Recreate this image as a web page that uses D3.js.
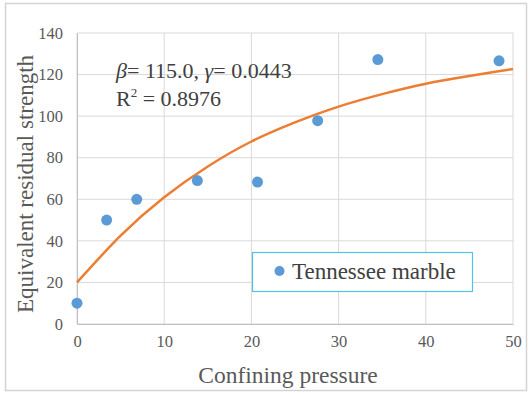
<!DOCTYPE html>
<html>
<head>
<meta charset="utf-8">
<script src="https://cdn.jsdelivr.net/npm/d3@7"></script>
<style>
  body { margin: 0; background: #fff; }
  text { font-family: "Liberation Serif", "Times New Roman", serif; }
</style>
</head>
<body>
<div id="chart"></div>
<script>
// measured points
var pressure = [0, 3.4, 6.85, 13.8, 20.7, 27.6, 34.5, 48.4];
var strength = [10, 50, 60, 69, 68.3, 97.8, 127.2, 126.6];

// fitted curve
var fitX = [0, 5, 10, 15, 20, 25, 30, 35, 40, 45, 50];
var fitY = [20, 42.5, 61, 75.8, 87.8, 97, 104.6, 110.6, 115.6, 119.3, 122.7];

var xTicks = [0, 10, 20, 30, 40, 50];
var yTicks = [0, 20, 40, 60, 80, 100, 120, 140];

var svgWidth = 530;
var svgHeight = 394;

var chartMargin = { top: 33, right: 17, bottom: 70, left: 77 };
var chartWidth = svgWidth - chartMargin.left - chartMargin.right;
var chartHeight = svgHeight - chartMargin.top - chartMargin.bottom;

var svg = d3.select("#chart")
            .append("svg")
            .attr("width", svgWidth)
            .attr("height", svgHeight);

// outer frame
svg.append("rect")
   .attr("x", 5.5).attr("y", 3.5)
   .attr("width", 521).attr("height", 387)
   .attr("fill", "#fff")
   .attr("stroke", "#d4d4d4")
   .attr("stroke-width", 1.5);

var chartGroup = svg.append("g")
                    .attr("transform", `translate(${chartMargin.left}, ${chartMargin.top})`);

var xLinearScale = d3.scaleLinear().domain([0, 50]).range([0, chartWidth]);
var yLinearScale = d3.scaleLinear().domain([0, 140]).range([chartHeight, 0]);

// grid
chartGroup.append("g")
  .selectAll("line.h")
  .data(yTicks)
  .enter()
  .append("line")
  .attr("x1", 0).attr("x2", chartWidth)
  .attr("y1", d => yLinearScale(d)).attr("y2", d => yLinearScale(d))
  .attr("stroke", "#d9d9d9")
  .attr("stroke-width", 1);

chartGroup.append("g")
  .selectAll("line.v")
  .data(xTicks)
  .enter()
  .append("line")
  .attr("y1", 0).attr("y2", chartHeight)
  .attr("x1", d => xLinearScale(d)).attr("x2", d => xLinearScale(d))
  .attr("stroke", "#d9d9d9")
  .attr("stroke-width", 1);

// axes (labels only, Excel style)
var bottomAxis = d3.axisBottom(xLinearScale).tickValues(xTicks).tickSize(0).tickPadding(11);
var leftAxis = d3.axisLeft(yLinearScale).tickValues(yTicks).tickSize(0).tickPadding(14);

var xAxis = chartGroup.append("g")
  .attr("transform", `translate(0, ${chartHeight})`)
  .call(bottomAxis);
var yAxis = chartGroup.append("g").call(leftAxis);

[xAxis, yAxis].forEach(function(ax) {
  ax.select(".domain").attr("stroke", "#bfbfbf");
  ax.selectAll("text")
    .attr("font-family", "Liberation Serif, serif")
    .attr("font-size", "16.5px")
    .attr("fill", "#595959");
});

// fit curve
var line = d3.line()
  .x(d => xLinearScale(d[0]))
  .y(d => yLinearScale(d[1]))
  .curve(d3.curveNatural);

chartGroup.append("path")
  .datum(fitX.map((x, i) => [x, fitY[i]]))
  .attr("d", line)
  .attr("fill", "none")
  .attr("stroke", "#ed7d31")
  .attr("stroke-width", 2.5);

// points
chartGroup.selectAll("circle.pt")
  .data(pressure.map((x, i) => [x, strength[i]]))
  .enter()
  .append("circle")
  .attr("cx", d => xLinearScale(d[0]))
  .attr("cy", d => yLinearScale(d[1]))
  .attr("r", 5.5)
  .style("fill", "#5b9bd5");

// equation text
var eq = svg.append("text")
  .attr("x", 116).attr("y", 78)
  .attr("font-size", "22px")
  .attr("fill", "#404040");
eq.append("tspan").attr("font-style", "italic").text("β");
eq.append("tspan").text("= 115.0, ");
eq.append("tspan").attr("font-style", "italic").text("γ");
eq.append("tspan").text("= 0.0443");

var r2 = svg.append("text")
  .attr("x", 116).attr("y", 106)
  .attr("font-size", "22px")
  .attr("fill", "#404040");
r2.append("tspan").text("R");
r2.append("tspan").attr("font-size", "13px").attr("dy", "-9").text("2");
r2.append("tspan").attr("dy", "9").text(" = 0.8976");

// legend
svg.append("rect")
  .attr("x", 252.5).attr("y", 252.5)
  .attr("width", 220).attr("height", 39)
  .attr("fill", "#fff")
  .attr("stroke", "#4fc3e8")
  .attr("stroke-width", 1.2);
svg.append("circle")
  .attr("cx", 279.5).attr("cy", 271)
  .attr("r", 5)
  .style("fill", "#5b9bd5");
svg.append("text")
  .attr("x", 292).attr("y", 279)
  .attr("font-size", "23px")
  .attr("fill", "#404040")
  .text("Tennessee marble");

// axis titles
svg.append("text")
  .attr("x", 288)
  .attr("y", 383)
  .attr("text-anchor", "middle")
  .attr("font-size", "23.5px")
  .attr("fill", "#595959")
  .text("Confining pressure");

svg.append("text")
  .attr("transform", "rotate(-90)")
  .attr("x", -184)
  .attr("y", 33)
  .attr("text-anchor", "middle")
  .attr("font-size", "23px")
  .attr("fill", "#595959")
  .text("Equivalent residual strength");
</script>
</body>
</html>
